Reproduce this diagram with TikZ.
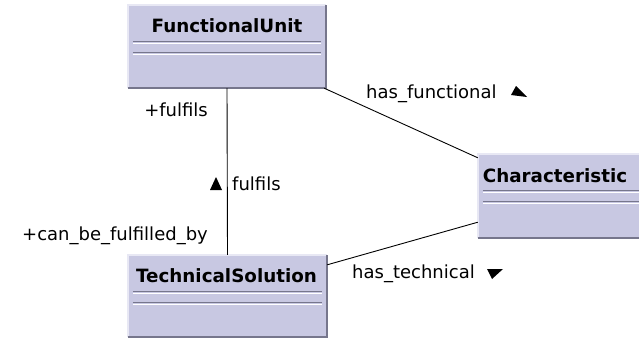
\documentclass[tikz,border=0pt]{standalone}
\usepackage{fontspec}
\setmainfont{DejaVu Sans}
\usetikzlibrary{calc}
\definecolor{classfill}{RGB}{200,200,226}
\definecolor{classedge}{RGB}{118,118,140}
\definecolor{classlight}{RGB}{232,232,244}
\tikzstyle{classbox}=[fill=classfill,draw=none,inner sep=0pt]
\tikzstyle{classname}=[font=\bfseries\fontsize{18.3}{21}\selectfont,inner sep=0pt,anchor=base]
\tikzstyle{role}=[font=\fontsize{18}{21}\selectfont,inner sep=0pt]
\tikzstyle{assoc}=[draw=black,line width=0.9pt]

\begin{document}
\begin{tikzpicture}[x=1pt,y=-1pt]
    \useasboundingbox (0,0) rectangle (639,338);
    \fill[white] (0,0) rectangle (639,338);
    % classes
    \node[classbox,minimum width=198pt,minimum height=83pt] (fu) at (227,46.5) {};
    \node[classbox,minimum width=199pt,minimum height=82pt] (ts) at (227.5,296) {};
    \node[classbox,minimum width=170pt,minimum height=84pt] (ch) at (563,196) {};
    \foreach \c in {fu,ts,ch} {
        \draw[classlight,line width=1.5pt] (\c.south west) -- (\c.north west) -- (\c.north east);
        \draw[classedge,line width=2.5pt] (\c.south west) -- (\c.south east) -- (\c.north east);
        \draw[classedge,line width=1.2pt] ($(\c.north west)+(5,37)$) -- ($(\c.north east)+(-5,37)$);
        \draw[white,line width=1.2pt] ($(\c.north west)+(5,38.5)$) -- ($(\c.north east)+(-5,38.5)$);
        \draw[classedge,line width=1.2pt] ($(\c.north west)+(5,48)$) -- ($(\c.north east)+(-5,48)$);
        \draw[white,line width=1.2pt] ($(\c.north west)+(5,49.5)$) -- ($(\c.north east)+(-5,49.5)$);
    }
    \node[classname] at ($(fu.north)+(0,27.5)$) {FunctionalUnit};
    \node[classname] at ($(ts.north)+(-1,27.5)$) {TechnicalSolution};
    \node[classname] at ($(ch.north)+(-8,28.5)$) {Characteristic};
    % associations
    \draw[assoc] (fu.south) -- (ts.north);
    \draw[assoc] ([xshift=-2pt]fu.south east) -- ([yshift=-4pt]ch.north west);
    \draw[assoc] ([yshift=-10pt]ts.north east) -- ([yshift=16pt]ch.south west);
    % labels
    \node[role,anchor=base east] (fuRole) at (208,116) {+fulfils};
    \node[role,anchor=base east] (tsRole) at (208,240) {+can\_be\_fulfilled\_by};
    \node[role,anchor=base west] (fulfils) at (232,190) {fulfils};
    \node[role,anchor=base west] (hasFunc) at (366,98) {has\_functional};
    \node[role,anchor=base west] (hasTech) at (352,278) {has\_technical};
    \fill[shift={(fulfils.base west)}] (-22,0) -- (-16,-13) -- (-10,0) -- cycle;
    \fill (511,95) -- (516,86) -- (527,97) -- cycle;
    \fill (487,269) -- (503,269) -- (492,279) -- cycle;
\end{tikzpicture}
\end{document}
